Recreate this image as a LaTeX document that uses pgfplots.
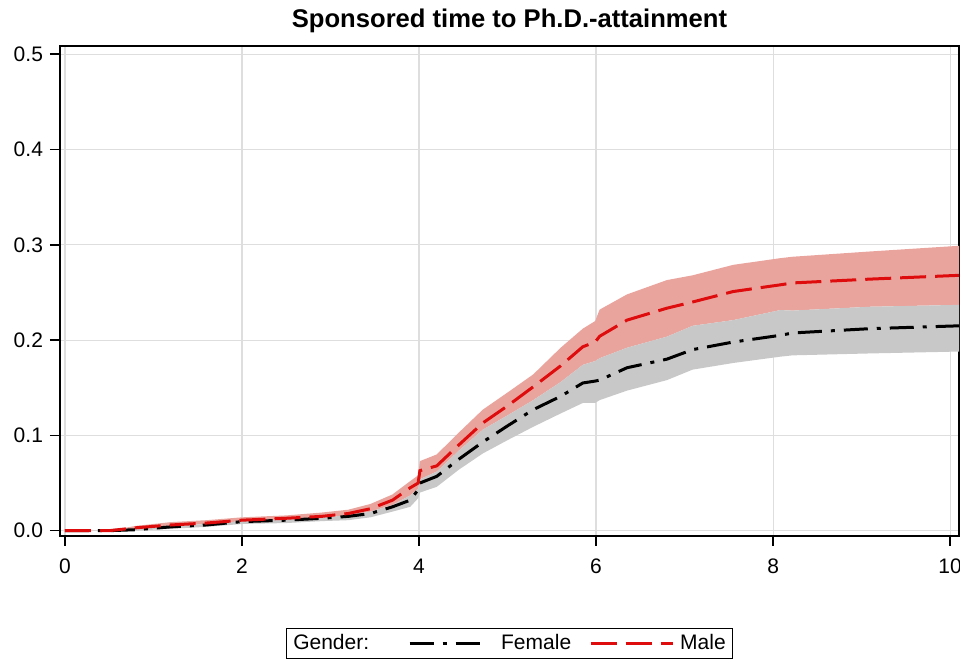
\documentclass[border=0pt]{standalone}
\usepackage{fontspec}
\setmainfont{Liberation Sans}
\usepackage{pgfplots}
\usepackage{pgfplotstable}
\pgfplotsset{compat=1.18}
\usepgfplotslibrary{fillbetween}
\definecolor{malered}{RGB}{222,12,12}
\definecolor{pinkband}{RGB}{234,164,158}
\definecolor{greyband}{RGB}{200,200,200}
\definecolor{gridgrey}{RGB}{222,222,222}
\pgfplotsset{
  femleg/.style={legend image code/.code={\draw[##1] (0pt,0pt) -- (37.5pt,0pt); \path (43pt,0pt);}},
  maleleg/.style={legend image code/.code={\draw[##1] (0pt,0pt) -- (41pt,0pt); \path (42pt,0pt);}},
}
\pgfplotstableread{
x     m      mhi    b      f      flo
0.00  0.000  0.000  0.000  0.000  0.000
0.50  0.000  0.000  0.000  0.000  0.000
0.80  0.003  0.005  0.002  0.001  0.000
1.20  0.006  0.009  0.005  0.004  0.002
1.60  0.008  0.011  0.007  0.006  0.004
2.00  0.011  0.014  0.010  0.0095 0.007
2.50  0.013  0.016  0.012  0.011  0.008
2.90  0.015  0.019  0.014  0.013  0.010
3.20  0.018  0.022  0.016  0.015  0.011
3.45  0.023  0.028  0.020  0.018  0.014
3.70  0.032  0.038  0.027  0.025  0.020
3.90  0.045  0.052  0.037  0.032  0.025
3.99  0.050  0.058  0.044  0.043  0.034
4.01  0.063  0.073  0.054  0.050  0.040
4.20  0.068  0.080  0.062  0.057  0.046
4.45  0.090  0.103  0.084  0.075  0.064
4.72  0.113  0.127  0.106  0.093  0.081
5.00  0.131  0.145  0.121  0.110  0.095
5.29  0.151  0.164  0.137  0.127  0.109
5.60  0.173  0.192  0.156  0.141  0.123
5.85  0.193  0.212  0.174  0.155  0.134
5.99  0.198  0.220  0.178  0.157  0.134
6.04  0.204  0.232  0.181  0.158  0.137
6.35  0.221  0.248  0.192  0.171  0.147
6.80  0.2335 0.263  0.2036 0.180  0.158
7.09  0.240  0.268  0.215  0.190  0.169
7.55  0.251  0.279  0.221  0.198  0.176
8.08  0.258  0.286  0.2315 0.205  0.1826
8.22  0.260  0.2875 0.231  0.2075 0.184
9.09  0.264  0.293  0.235  0.212  0.186
10.10 0.268  0.299  0.237  0.215  0.188
}\data
\begin{document}
\begin{tikzpicture}
\begin{axis}[
  at={(0,0)}, anchor=south west, scale only axis,
  width=449.5pt, height=245pt,
  xmin=-0.056, xmax=10.1, ymin=-0.0056, ymax=0.5087,
  xtick={0,2,4,6,8,10},
  ytick={0,0.1,0.2,0.3,0.4,0.5},
  yticklabel style={/pgf/number format/.cd, fixed, fixed zerofill, precision=1},
  /pgf/number format/assume math mode=true,
  tick label style={font=\fontsize{10.5}{12}\selectfont},
  xticklabel style={yshift=-3pt},
  tick align=outside, major tick length=5pt,
  tick style={black, line width=0.8pt},
  xtick pos=bottom, ytick pos=left,
  axis line style={line width=0.9pt},
  grid=major, major grid style={gridgrey, line width=0.6pt},
  title={Sponsored time to Ph.D.-attainment},
  title style={font=\fontsize{12.8}{15}\selectfont\bfseries, at={(0.5,1)}, anchor=base, yshift=3pt},
  legend columns=-1,
  legend style={at={(0.5,-0.1878)}, anchor=north, draw=black, line width=0.6pt,
    font=\fontsize{10.5}{12}\selectfont, inner xsep=1.5pt, inner ysep=1pt,
    /tikz/every even column/.append style={column sep=7pt}},
]
\addlegendimage{empty legend}
\addlegendentry{Gender:\hspace*{10.5pt}}
\addplot[draw=none, name path=mhi, forget plot] table[x=x, y=mhi]{\data};
\addplot[draw=none, name path=b, forget plot] table[x=x, y=b]{\data};
\addplot[draw=none, name path=flo, forget plot] table[x=x, y=flo]{\data};
\addplot[pinkband, draw=none, forget plot] fill between[of=mhi and b];
\addplot[greyband, draw=none, forget plot] fill between[of=b and flo];
\addplot[black, line width=1.5pt, dash pattern=on 12pt off 4.5pt on 2pt off 4.5pt, femleg] table[x=x, y=f]{\data};
\addlegendentry{Female}
\addplot[malered, line width=1.5pt, dash pattern=on 13pt off 4.5pt, maleleg] table[x=x, y=m]{\data};
\addlegendentry{Male}
\end{axis}
\pgfresetboundingbox
\path[use as bounding box] (-30pt,-61.5pt) rectangle (450pt,268pt);
\end{tikzpicture}
\end{document}
